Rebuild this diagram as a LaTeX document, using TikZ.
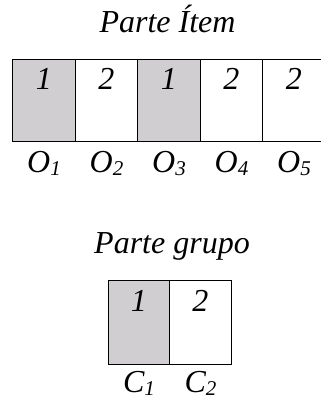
\documentclass[tikz,border=0pt]{standalone}
\usepackage{fontspec}
\setmainfont{Liberation Serif}
\usetikzlibrary{calc}
\definecolor{cellgrey}{RGB}{208,206,208}
\newcommand{\subidx}[1]{\raisebox{-3pt}{\fontsize{21}{22}\selectfont #1}}

\begin{document}
\begin{tikzpicture}[x=1pt,y=-1pt,
    every node/.style={font=\fontsize{32}{36}\selectfont\itshape, inner sep=0pt},
    cell/.style={draw, line width=1.4pt, minimum width=62.5pt, minimum height=82pt, anchor=north west}]
    \useasboundingbox (0,0) rectangle (321,399);
    % item part: five objects
    \node[anchor=base] (titem) at (167.5,32) {Parte Ítem};
    \foreach \i/\v/\f in {1/1/cellgrey,2/2/white,3/1/cellgrey,4/2/white,5/2/white}{
        \node[cell, fill=\f] (o\i) at ({12+62.5*(\i-1)},59) {};
        \node[anchor=base] (vo\i) at ($(o\i.north)+(0,30)$) {\v};
        \node[anchor=base] (lo\i) at ($(o\i.south)+(0,30)$) {O\subidx{\i}};
    }
    % group part: two clusters
    \node[anchor=base] (tgroup) at (172,253) {Parte grupo};
    \foreach \i/\v/\f in {1/1/cellgrey,2/2/white}{
        \node[cell, fill=\f, minimum width=61.5pt, minimum height=84pt] (c\i) at ({107.5+61.5*(\i-1)},280) {};
        \node[anchor=base] (vc\i) at ($(c\i.north)+(0,31)$) {\v};
        \node[anchor=base] (lc\i) at ($(c\i.south)+(0,27)$) {C\subidx{\i}};
    }
\end{tikzpicture}
\end{document}
